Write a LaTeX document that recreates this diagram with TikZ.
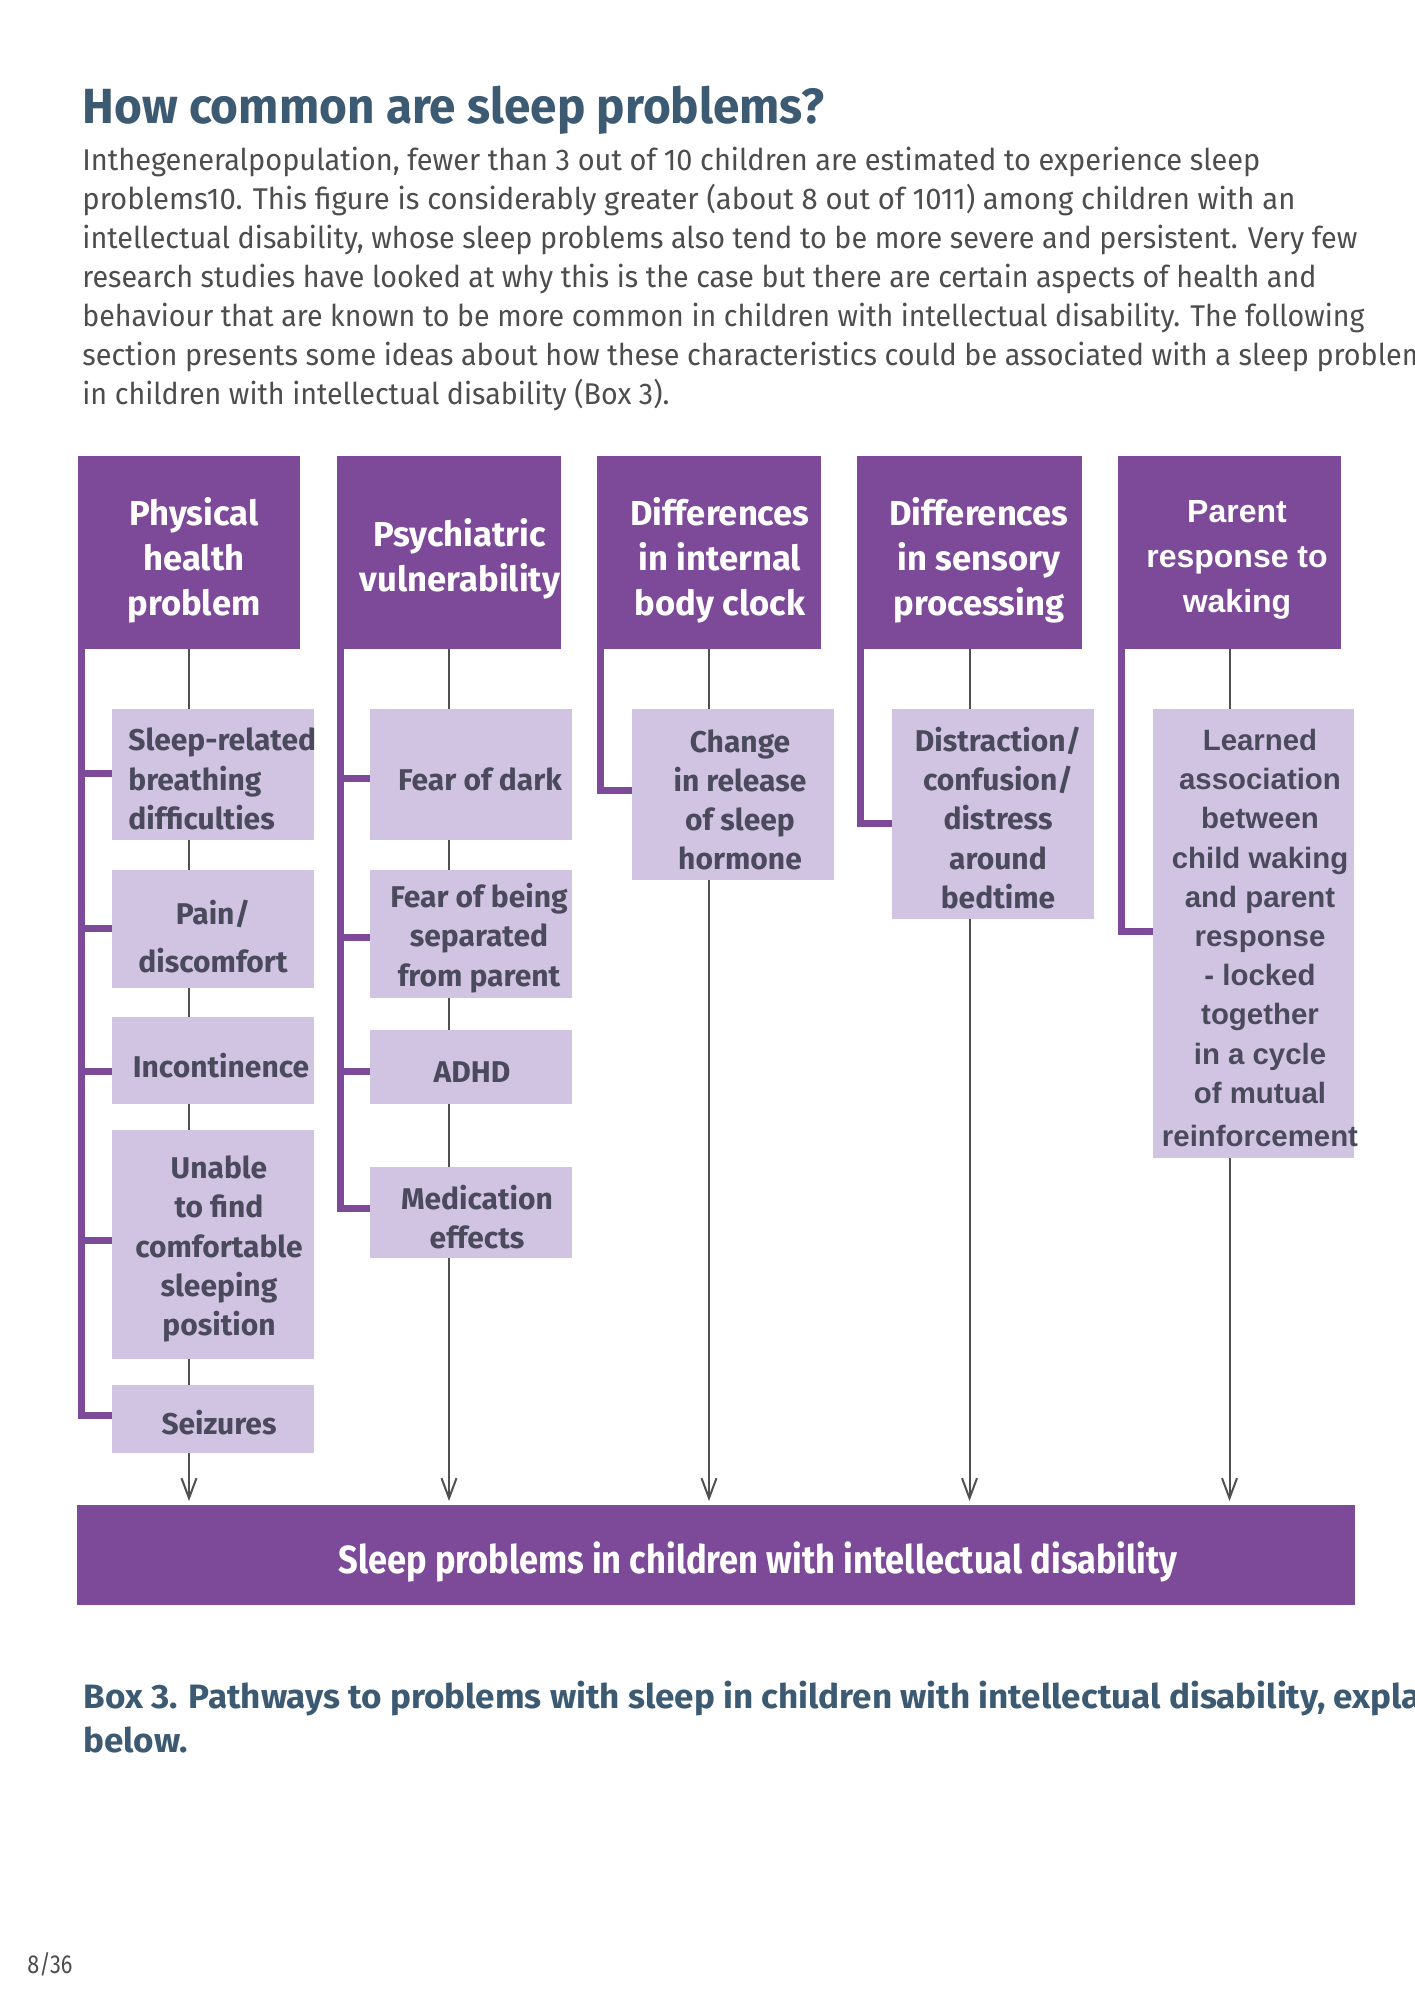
\documentclass[tikz,border=0pt]{standalone}
\usepackage{fontspec}
\usepackage{graphicx}
\usetikzlibrary{arrows.meta,calc}
\setmainfont{Fira Sans}
\newfontfamily\fira{Fira Sans}
\newfontfamily\libsans{Liberation Sans}
\definecolor{purp}{HTML}{7D4A99}
\definecolor{lav}{HTML}{D1C4E2}
\definecolor{ctext}{HTML}{4A4A5C}
\definecolor{ttl}{HTML}{3D5A73}
\definecolor{bodyc}{HTML}{4D4D4D}
\definecolor{connc}{HTML}{505050}
\newlength\fitlen
\newcommand\fitto[2]{\settowidth\fitlen{#2}\pgfmathsetmacro\fitfac{#1/\fitlen}\xdef\myfac{\fitfac}\scalebox{\fitfac}[1]{#2}}
\newcommand\bx[6]{\node[#2, minimum width={(#5-#3)*0.5pt}, minimum height={(#6-#4)*0.5pt}] (#1) at (#3,#4) {};}
\tikzset{
  hdr/.style={fill=purp, draw=none, inner sep=0pt, outer sep=0pt, anchor=north west},
  sub/.style={fill=lav, draw=none, inner sep=0pt, outer sep=0pt, anchor=north west},
  htext/.style={text=white, font=\fira\bfseries\fontsize{17.3}{22.5}\selectfont, align=center, inner sep=0pt},
  stext/.style={text=ctext, font=\fira\bfseries\fontsize{15}{19.6}\selectfont, align=center, inner sep=0pt},
  htextb/.style={text=white, font=\libsans\bfseries\fontsize{16}{22.5}\selectfont, align=center, inner sep=0pt},
  stextb/.style={text=ctext, font=\libsans\bfseries\fontsize{14.7}{19.6}\selectfont, align=center, inner sep=0pt},
  bodyline/.style={text=bodyc, font=\fira\fontsize{15}{19.6}\selectfont, anchor=base west, inner sep=0pt},
  cline/.style={draw=connc, line width=1pt},
  carrow/.style={draw=connc, line width=1pt, -{Straight Barb[length=10pt,width=7.5pt,line width=1pt]}, shorten >=2pt},
  brk/.style={draw=purp, line width=3.5pt, line join=miter}
}
\begin{document}
\begin{tikzpicture}[x=0.5pt,y=-0.5pt]
\useasboundingbox (0,0) rectangle (1414,2000);
\clip (0,0) rectangle (1414,2000);
\fill[white] (0,0) rectangle (1414,2000);

% title and body text
\node[anchor=base west, inner sep=0pt, text=ttl, font=\fira\bfseries\fontsize{24.7}{30}\selectfont] (title) at (82,124) {\fitto{371pt}{How common are sleep problems?}};
\node[bodyline] (l1) at (82,171) {\fitto{589pt}{Inthegeneralpopulation, fewer than 3 out of 10 children are estimated to experience sleep}};
\node[bodyline] (l2) at (82,210) {\fitto{606.5pt}{problems10. This figure is considerably greater (about 8 out of 1011) among children with an}};
\node[bodyline] (l3) at (82,249) {\fitto{637.5pt}{intellectual disability, whose sleep problems also tend to be more severe and persistent. Very few}};
\node[bodyline] (l4) at (82,288) {\fitto{617pt}{research studies have looked at why this is the case but there are certain aspects of health and}};
\node[bodyline] (l5) at (82,327) {\fitto{641pt}{behaviour that are known to be more common in children with intellectual disability. The following}};
\node[bodyline] (l6) at (82,366) {\fitto{672pt}{section presents some ideas about how these characteristics could be associated with a sleep problem}};
\node[bodyline] (l7) at (82,405) {\fitto{293.5pt}{in children with intellectual disability (Box 3).}};

% header boxes
\bx{h1}{hdr}{78}{456}{300}{649}
\bx{h2}{hdr}{337}{456}{561}{649}
\bx{h3}{hdr}{597}{456}{821}{649}
\bx{h4}{hdr}{857}{456}{1082}{649}
\bx{h5}{hdr}{1118}{456}{1341}{649}

% child boxes
\bx{c11}{sub}{112}{709}{314}{840}
\bx{c12}{sub}{112}{870}{314}{988}
\bx{c13}{sub}{112}{1017}{314}{1104}
\bx{c14}{sub}{112}{1130}{314}{1359}
\bx{c15}{sub}{112}{1385}{314}{1453}
\bx{c21}{sub}{370}{709}{572}{840}
\bx{c22}{sub}{370}{870}{572}{998}
\bx{c23}{sub}{370}{1030}{572}{1104}
\bx{c24}{sub}{370}{1167}{572}{1258}
\bx{c31}{sub}{632}{709}{834}{880}
\bx{c41}{sub}{892}{709}{1094}{919}
\bx{c51}{sub}{1153}{709}{1354}{1158}

% main box
\bx{main}{hdr}{77}{1505}{1355}{1605}

% header texts
\node[htext] (h1t) at (194,560) {Physical\\health\\problem};
\node[htext] (h2t) at (460,559) {Psychiatric\\vulnerability};
\node[htext] (h3t) at (720,560) {Differences\\in internal\\body clock};
\node[htext] (h4t) at (979,560) {Differences\\in sensory\\processing};
\node[htextb] (h5t) at (1237,560) {Parent\\response to\\waking};

% child texts
\node[stext, align=left, anchor=west] (c11t) at (128,779) {Sleep-related\\breathing\\difficulties};
\node[stext] (c12t) at (213,937) {Pain/\\[4.4pt]discomfort};
\node[stext] (c13t) at (221,1066) {Incontinence};
\node[stext] (c14t) at (219,1249) {Unable\\to find\\comfortable\\sleeping\\position};
\node[stext] (c15t) at (219,1423) {Seizures};
\node[stext] (c21t) at (480,779) {Fear of dark};
\node[stext] (c22t) at (479,938) {Fear of being\\separated\\from parent};
\node[stext] (c23t) at (472,1072) {ADHD};
\node[stext] (c24t) at (477,1217) {Medication\\effects};
\node[stext] (c31t) at (740,800) {Change\\in release\\of sleep\\hormone};
\node[stext] (c41t) at (998,818) {Distraction/\\confusion/\\distress\\around\\bedtime};
\node[stextb] (c51t) at (1260,938) {Learned\\association\\between\\child waking\\and parent\\response\\- locked\\together\\in a cycle\\of mutual\\[2pt]reinforcement};

\node[anchor=base, inner sep=0pt, text=white, font=\fira\bfseries\fontsize{19.6}{24}\selectfont] (maint) at (758,1573) {\fitto{419.5pt}{Sleep problems in children with intellectual disability}};

% grey connectors
\draw[cline] (h1.south) -- (h1.south |- c11.north);
\draw[cline] (h1.south |- c11.south) -- (h1.south |- c12.north);
\draw[cline] (h1.south |- c12.south) -- (h1.south |- c13.north);
\draw[cline] (h1.south |- c13.south) -- (h1.south |- c14.north);
\draw[cline] (h1.south |- c14.south) -- (h1.south |- c15.north);
\draw[carrow] (h1.south |- c15.south) -- (h1.south |- main.north);

\draw[cline] (h2.south) -- (h2.south |- c21.north);
\draw[cline] (h2.south |- c21.south) -- (h2.south |- c22.north);
\draw[cline] (h2.south |- c22.south) -- (h2.south |- c23.north);
\draw[cline] (h2.south |- c23.south) -- (h2.south |- c24.north);
\draw[carrow] (h2.south |- c24.south) -- (h2.south |- main.north);

\draw[cline] (h3.south) -- (h3.south |- c31.north);
\draw[carrow] (h3.south |- c31.south) -- (h3.south |- main.north);
\draw[cline] (h4.south) -- (h4.south |- c41.north);
\draw[carrow] (h4.south |- c41.south) -- (h4.south |- main.north);
\draw[cline] (h5.south) -- (h5.south |- c51.north);
\draw[carrow] (h5.south |- c51.south) -- (h5.south |- main.north);

% purple brackets
\coordinate (b1) at ($(h1.south west)+(3.5,0)$);
\coordinate (b2) at ($(h2.south west)+(3.5,0)$);
\coordinate (b3) at ($(h3.south west)+(3.5,0)$);
\coordinate (b4) at ($(h4.south west)+(3.5,0)$);
\coordinate (b5) at ($(h5.south west)+(3.5,0)$);
\coordinate (t11) at ($(c11.west)+(0,-1.5)$);
\coordinate (t12) at ($(c12.west)+(0,-1)$);
\coordinate (t13) at ($(c13.west)+(0,10.5)$);
\coordinate (t14) at ($(c14.west)+(0,-4.5)$);
\coordinate (t15) at ($(c15.west)+(0,-4)$);
\coordinate (t21) at ($(c21.west)+(0,3.5)$);
\coordinate (t22) at ($(c22.west)+(0,3)$);
\coordinate (t23) at ($(c23.west)+(0,4)$);
\coordinate (t24) at ($(c24.west)+(0,-4.5)$);
\coordinate (t31) at ($(c31.west)+(0,-4.5)$);
\coordinate (t41) at ($(c41.west)+(0,9)$);
\coordinate (t51) at ($(c51.west)+(0,-2.5)$);

\draw[brk] (b1) -- (b1 |- t15) -- (t15);
\draw[brk] (b1 |- t11) -- (t11);
\draw[brk] (b1 |- t12) -- (t12);
\draw[brk] (b1 |- t13) -- (t13);
\draw[brk] (b1 |- t14) -- (t14);
\draw[brk] (b2) -- (b2 |- t24) -- (t24);
\draw[brk] (b2 |- t21) -- (t21);
\draw[brk] (b2 |- t22) -- (t22);
\draw[brk] (b2 |- t23) -- (t23);
\draw[brk] (b3) -- (b3 |- t31) -- (t31);
\draw[brk] (b4) -- (b4 |- t41) -- (t41);
\draw[brk] (b5) -- (b5 |- t51) -- (t51);

% caption and page number
\node[anchor=base west, inner sep=0pt, text=ttl, font=\fira\bfseries\fontsize{16.9}{22}\selectfont] (cap1) at (83,1708) {\fitto{621pt}{Box 3. Pathways to problems with sleep in children with intellectual disability,}\scalebox{\myfac}[1]{\ explained}};
\node[anchor=base west, inner sep=0pt, text=ttl, font=\fira\bfseries\fontsize{16.9}{22}\selectfont] (cap2) at (83,1752) {\scalebox{\myfac}[1]{below.}};
\node[anchor=base west, inner sep=0pt, text=bodyc, font=\fira\fontsize{13}{16}\selectfont] (pg) at (27,1973) {\fitto{22.5pt}{8/36}};
\end{tikzpicture}
\end{document}
